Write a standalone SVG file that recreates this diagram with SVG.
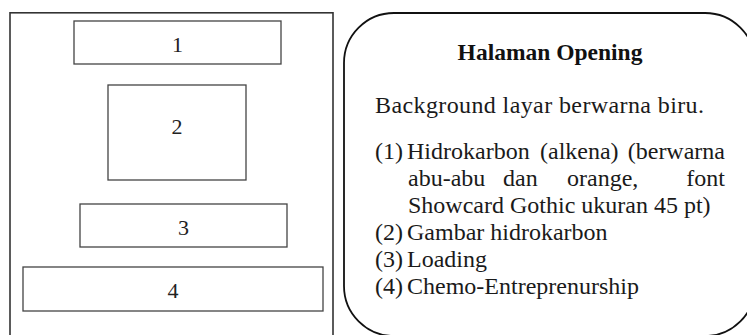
<svg xmlns="http://www.w3.org/2000/svg" width="747" height="335" viewBox="0 0 747 335">
  <style>
    .frame { fill: #ffffff; stroke: #333333; stroke-width: 1.6; }
    .box { fill: #ffffff; stroke: #444444; stroke-width: 1.3; }
    .num { font-family: "Liberation Serif", "Times New Roman", serif; font-size: 22px; fill: #222222; text-anchor: middle; }
    .panel { fill: #ffffff; stroke: #111111; stroke-width: 1.8; }
    .title { font-family: "Liberation Serif", "Times New Roman", serif; font-size: 23.5px; font-weight: bold; fill: #111111; text-anchor: middle; }
    .body { font-family: "Liberation Serif", "Times New Roman", serif; font-size: 24px; fill: #1a1a1a; }
    .end { text-anchor: end; }
  </style>
  <rect width="747" height="335" fill="#ffffff"/>

  <g id="layout-frame">
    <rect class="frame" x="10" y="12.8" width="323" height="330"/>
  </g>
  <g id="node-1">
    <rect class="box" x="74" y="21" width="207" height="43"/>
    <text class="num" x="177.5" y="52">1</text>
  </g>
  <g id="node-2">
    <rect class="box" x="108" y="85" width="138" height="95"/>
    <text class="num" x="177" y="134">2</text>
  </g>
  <g id="node-3">
    <rect class="box" x="80" y="204" width="207" height="43"/>
    <text class="num" x="183.5" y="235">3</text>
  </g>
  <g id="node-4">
    <rect class="box" x="23" y="267" width="300" height="44"/>
    <text class="num" x="173" y="298">4</text>
  </g>

  <g id="description-panel">
    <path class="panel" d="M394,13 H705 A50,50 0 0 1 755,63 V286 A50,50 0 0 1 705,336 H394 A50,50 0 0 1 344,286 V63 A50,50 0 0 1 394,13 Z"/>
    <text class="title" x="550" y="60">Halaman Opening</text>
    <text class="body" x="375" y="113" textLength="329" lengthAdjust="spacing">Background layar berwarna biru.</text>

    <text class="body" x="375" y="159">(1)</text>
    <text class="body" x="407" y="159">Hidrokarbon</text>
    <text class="body" x="540" y="159">(alkena)</text>
    <text class="body end" x="725" y="159">(berwarna</text>

    <text class="body" x="408" y="186">abu-abu</text>
    <text class="body" x="503" y="186">dan</text>
    <text class="body" x="567" y="186">orange,</text>
    <text class="body end" x="725" y="186">font</text>

    <text class="body" x="408" y="213">Showcard Gothic ukuran 45 pt)</text>

    <text class="body" x="375" y="240">(2)</text>
    <text class="body" x="407" y="240">Gambar hidrokarbon</text>
    <text class="body" x="375" y="267">(3)</text>
    <text class="body" x="407" y="267">Loading</text>
    <text class="body" x="375" y="294">(4)</text>
    <text class="body" x="407" y="294">Chemo-Entreprenurship</text>
  </g>
</svg>
